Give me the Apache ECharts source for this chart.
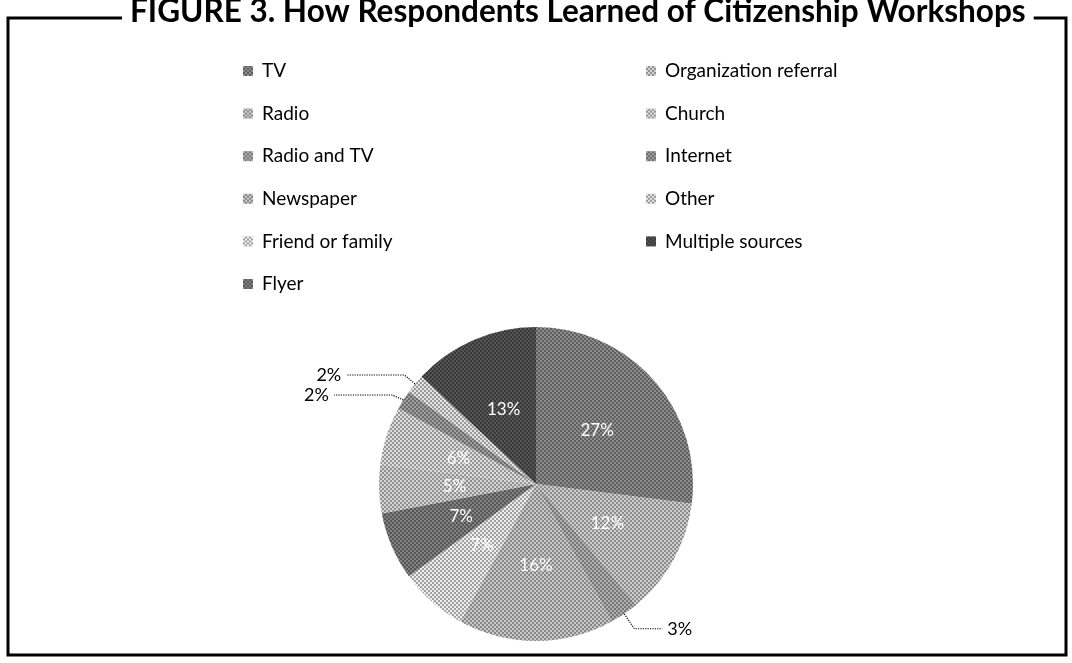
<!DOCTYPE html>
<html>
<head>
<meta charset="utf-8">
<script src="https://cdn.jsdelivr.net/npm/echarts@6/dist/echarts.min.js"></script>
<style>
  html, body { margin: 0; padding: 0; background: #fff; }
  #chart { width: 1072px; height: 663px; }
</style>
</head>
<body>
<div id="chart"></div>
<script>
// Sources respondents named, in slice order (clockwise from 12 o'clock)
const sources = [
  'TV', 'Radio', 'Radio and TV', 'Newspaper', 'Friend or family', 'Flyer',
  'Organization referral', 'Church', 'Internet', 'Other', 'Multiple sources'
];
// Share of respondents, percent
const shares = [27, 12, 3, 16, 7, 7, 5, 6, 2, 2, 13];
// Slices too thin for an inside label get an outside label with a leader line
const outsideLabelled = ['Radio and TV', 'Internet', 'Other'];

// Grey pattern fills, one per source (dots are laid over these bases)
const shades = [
  '#8d8d8d', '#cecece', '#b0b0b0', '#c8c8c8', '#eeeeee', '#818181',
  '#d4d4d4', '#dedede', '#9f9f9f', '#e4e4e4', '#555555'
];
const dotPattern = {
  symbol: 'rect',
  symbolSize: 1,
  color: 'rgba(0,0,0,0.32)',
  dashArrayX: [[2, 2], [0, 2, 2, 0]],
  dashArrayY: [2, 0]
};

const FONT = 'Lato, "Open Sans", "Liberation Sans", sans-serif';

const pieData = sources.map((name, i) => {
  const item = {
    name: name,
    value: shares[i],
    itemStyle: { color: shades[i], decal: dotPattern }
  };
  if (outsideLabelled.includes(name)) {
    const leftSide = name !== 'Radio and TV';
    item.label = { position: 'outside', color: '#000', fontSize: 18 };
    item.labelLine = { show: true, length: leftSide ? 14 : 18, length2: leftSide ? 58 : 28 };
  }
  return item;
});

const legendStyle = {
  orient: 'vertical',
  icon: 'rect',
  itemWidth: 10,
  itemHeight: 10,
  itemGap: 22.6,
  selectedMode: false,
  textStyle: {
    fontFamily: FONT, fontSize: 19, color: '#000', lineHeight: 20,
    padding: [0, 0, 0, 4]
  }
};

const chart = echarts.init(document.getElementById('chart'), null, { renderer: 'canvas' });

chart.setOption({
  backgroundColor: '#fff',
  animation: false,
  aria: { decal: { show: false } },
  title: {
    text: 'FIGURE 3. How Respondents Learned of Citizenship Workshops',
    left: 122,
    top: -4,
    padding: [0, 8],
    backgroundColor: '#fff',
    textStyle: { fontFamily: FONT, fontSize: 31.5, fontWeight: 'bold', color: '#000' }
  },
  legend: [
    Object.assign({}, legendStyle, { left: 238, top: 56, data: sources.slice(0, 6) }),
    Object.assign({}, legendStyle, { left: 641, top: 56, data: sources.slice(6) })
  ],
  graphic: [
    {
      type: 'polyline',
      silent: true,
      z: 0,
      shape: { points: [[125, 18], [8, 18], [8, 655], [1066, 655], [1066, 18], [1030, 18]] },
      style: { fill: null, stroke: '#000', lineWidth: 3 }
    }
  ],
  series: [
    {
      type: 'pie',
      center: [536, 484],
      radius: 157,
      startAngle: 90,
      clockwise: true,
      avoidLabelOverlap: true,
      data: pieData,
      label: {
        show: true,
        position: 'inside',
        formatter: '{c}%',
        color: '#fff',
        fontFamily: FONT,
        fontSize: 17
      },
      labelLine: {
        show: false,
        length: 18,
        length2: 30,
        lineStyle: { color: '#000', width: 1.2, type: 'dotted' }
      },
      itemStyle: { borderWidth: 0 },
      emphasis: { disabled: true }
    }
  ]
});
</script>
</body>
</html>
